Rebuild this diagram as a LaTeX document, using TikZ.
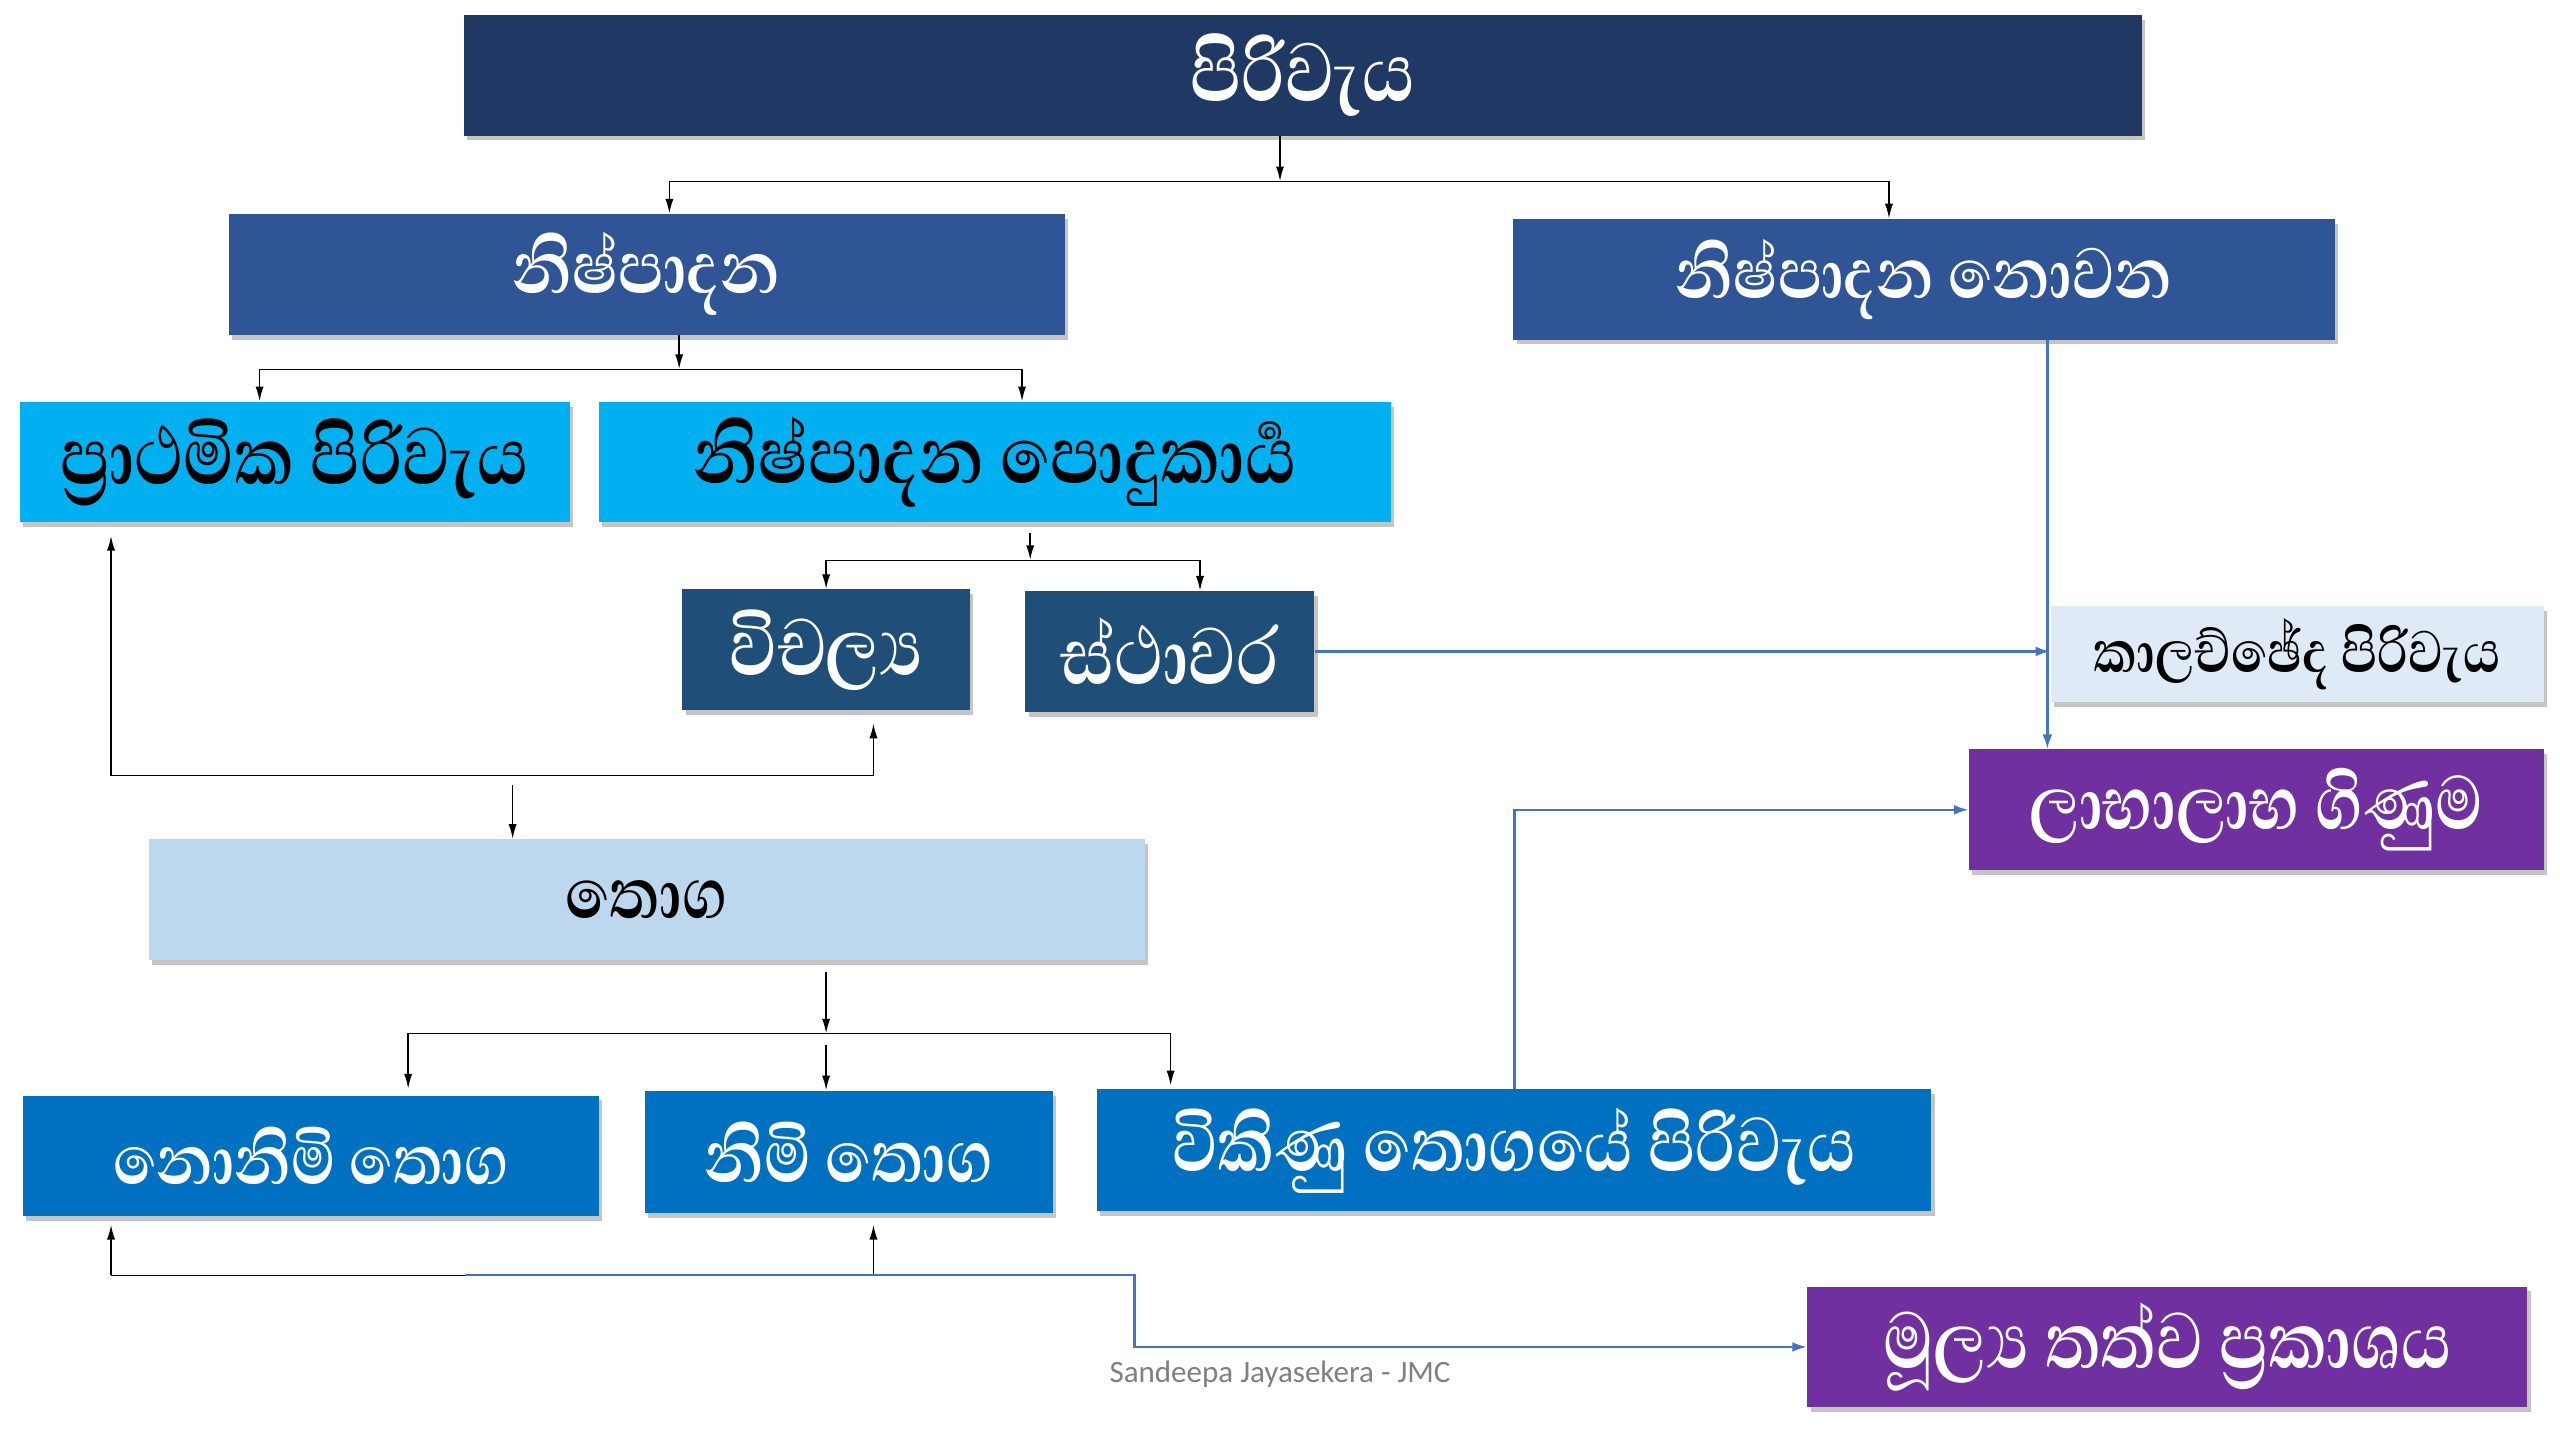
\documentclass[tikz,border=0pt]{standalone}
\usepackage{fontspec}
\newfontfamily\sinhala[Script=Sinhala, FakeStretch=0.82]{Abhaya Libre}
\newfontfamily\creditfont{Carlito}
\usetikzlibrary{arrows.meta,shadows}
\definecolor{navy}{RGB}{32,56,100}
\definecolor{midblue}{RGB}{47,85,151}
\definecolor{skyblue}{RGB}{0,176,240}
\definecolor{deepblue}{RGB}{31,78,121}
\definecolor{paleblue}{RGB}{222,235,247}
\definecolor{lightblue}{RGB}{189,215,238}
\definecolor{stockblue}{RGB}{0,112,192}
\definecolor{violet}{RGB}{112,48,160}
\definecolor{linkblue}{RGB}{68,114,196}
\begin{document}
\begin{tikzpicture}[x=1pt,y=-1pt,
    box/.style={rectangle, inner sep=0pt, text=white,
        drop shadow={shadow xshift=2pt, shadow yshift=-3pt, fill=black!45, opacity=0.5}},
    txt/.style={font=\sinhala\bfseries\fontsize{#1}{#1}\selectfont},
    arr/.style={-{Latex[length=9pt,width=5pt]}, line width=1pt},
    barr/.style={-{Latex[length=9pt,width=6pt]}, linkblue, line width=1.5pt}]
    \useasboundingbox (0,0) rectangle (1568,882);

    \node[box, txt=65, fill=navy, minimum width=1028pt, minimum height=74pt] (cost) at (798,46) {පිරිවැය};

    \node[box, txt=58, fill=midblue, minimum width=512pt, minimum height=74pt] (prod) at (396,168) {නිෂ්පාදන};
    \node[box, txt=56, fill=midblue, minimum width=503pt, minimum height=74pt] (nonprod) at (1178.5,171) {නිෂ්පාදන නොවන};

    \node[box, txt=63, fill=skyblue, text=black, minimum width=337pt, minimum height=74pt] (prime) at (180.5,283) {ප්^^^^200dරාථමික පිරිවැය};
    \node[box, txt=63, fill=skyblue, text=black, minimum width=485pt, minimum height=74pt] (ovh) at (609.5,283) {නිෂ්පාදන පොදුකාර්^^^^200dය};

    \node[box, txt=63, fill=deepblue, minimum width=176pt, minimum height=74pt] (var) at (506,398) {විචල්^^^^200dය};
    \node[box, txt=63, fill=deepblue, minimum width=177pt, minimum height=74pt] (fix) at (716.5,399) {ස්ථාවර};

    \node[box, txt=46, fill=paleblue, text=black, minimum width=302pt, minimum height=59pt] (period) at (1407,400.5) {කාලච්ඡේද පිරිවැය};
    \node[box, txt=59, fill=violet, minimum width=352pt, minimum height=74pt] (pl) at (1382,496) {ලාභාලාභ ගිණුම};

    \node[box, txt=56, fill=lightblue, text=black, minimum width=610pt, minimum height=74pt] (stock) at (396,551) {තොග};

    \node[box, txt=55, fill=stockblue, minimum width=353pt, minimum height=74pt] (wip) at (190.5,708) {නොනිමි තොග};
    \node[box, txt=58, fill=stockblue, minimum width=250pt, minimum height=75pt] (fin) at (520,705.5) {නිමි තොග};
    \node[box, txt=60, fill=stockblue, minimum width=511pt, minimum height=75pt] (cogs) at (927.5,704.5) {විකිණු තොගයේ පිරිවැය};

    \node[box, txt=62, fill=violet, minimum width=441pt, minimum height=74pt] (bs) at (1327.5,825) {මූල්^^^^200dය තත්ව ප්^^^^200dරකාශය};

    \node[text=black!50, font=\creditfont\fontsize{19}{21}\selectfont] (credit) at (784,842) {Sandeepa Jayasekera - JMC};

    \coordinate (t1) at (784,111);
    \coordinate (t1l) at (410,111);
    \coordinate (t1r) at (1157,111);
    \draw[arr] (cost.south -| t1) -- (t1);
    \draw (t1l) -- (t1r);
    \draw[arr] (t1l) -- (t1l |- prod.north);
    \draw[arr] (t1r) -- (t1r |- nonprod.north);

    \coordinate (t2) at (416,226);
    \coordinate (t2l) at (159,226);
    \coordinate (t2r) at (626,226);
    \draw[arr] (prod.south -| t2) -- (t2);
    \draw (t2l) -- (t2r);
    \draw[arr] (t2l) -- (t2l |- prime.north);
    \draw[arr] (t2r) -- (t2r |- ovh.north);

    \coordinate (t3) at (631,343);
    \coordinate (t3l) at (506,343);
    \coordinate (t3r) at (735,343);
    \draw[arr, shorten <=6pt] (ovh.south -| t3) -- (t3);
    \draw (t3l) -- (t3r);
    \draw[arr] (t3l) -- (t3l |- var.north);
    \draw[arr] (t3r) -- (t3r |- fix.north);

    \draw[barr] (fix.east) -- (fix.east -| period.west);

    \coordinate (np) at (1254,208);
    \draw[barr] (np) -- (np |- pl.north);

    \coordinate (u1l) at (68,475);
    \coordinate (u1r) at (535,475);
    \coordinate (u1s) at (314,481);
    \draw (u1l) -- (u1r);
    \draw[arr, shorten >=8pt] (u1l) -- (u1l |- prime.south);
    \draw[arr, shorten >=8pt] (u1r) -- (u1r |- var.south);
    \draw[arr] (u1s) -- (u1s |- stock.north);

    \coordinate (t4) at (506,633);
    \coordinate (t4l) at (250,633);
    \coordinate (t4r) at (717,633);
    \coordinate (t4m) at (506,640);
    \draw[arr, shorten <=7pt] (stock.south -| t4) -- (t4);
    \draw (t4l) -- (t4r);
    \draw[arr, shorten >=4pt] (t4l) -- (t4l |- wip.north);
    \draw[arr] (t4m) -- (t4m |- fin.north);
    \draw[arr, shorten >=2pt] (t4r) -- (t4r |- cogs.north);

    \draw[barr] (cogs.north) |- (pl.west);

    \coordinate (u2l) at (68,781);
    \coordinate (u2r) at (535,781);
    \draw (u2l) -- (u2r);
    \draw[arr, shorten >=5pt] (u2l) -- (u2l |- wip.south);
    \draw[arr, shorten >=7pt] (u2r) -- (u2r |- fin.south);

    \coordinate (u2b) at (285,781);
    \coordinate (u2k) at (695,781);
    \draw[barr] (u2b) -- (u2k) |- (bs.west);
\end{tikzpicture}
\end{document}
